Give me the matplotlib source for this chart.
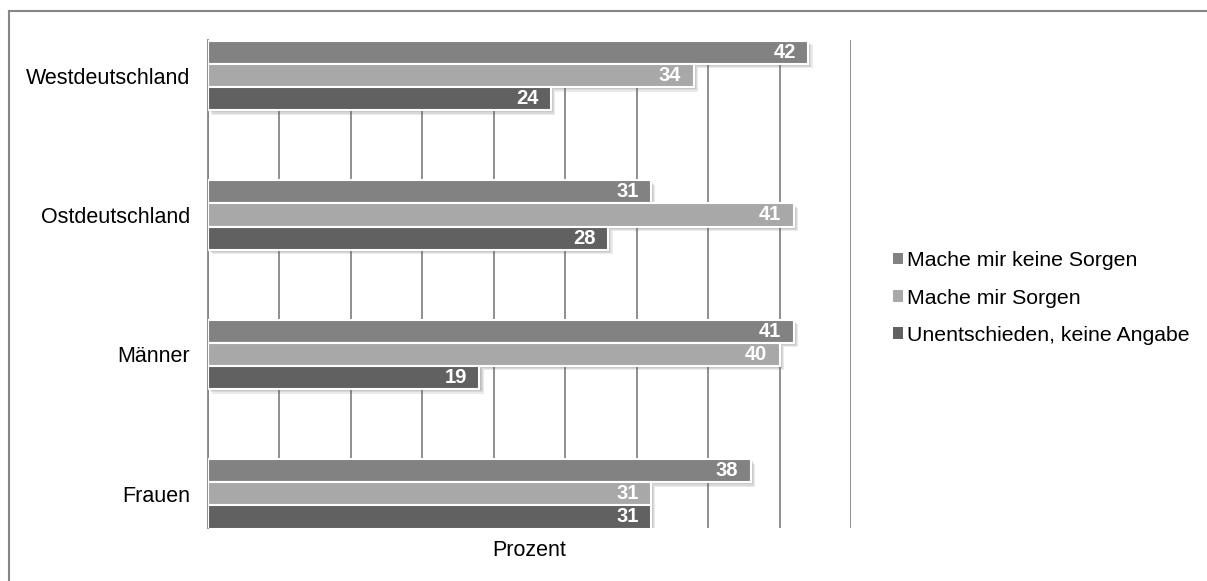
"""
Sorgen nach Region und Geschlecht - horizontal grouped bars
"""
import matplotlib
matplotlib.use("Agg")
import matplotlib.pyplot as plt
import matplotlib.patheffects as pe
from matplotlib.lines import Line2D
import numpy as np

plt.rcParams['font.family'] = ['Liberation Sans', 'DejaVu Sans']

# data
categories = ["Westdeutschland", "Ostdeutschland", "Männer", "Frauen"]
series_names = ["Mache mir keine Sorgen", "Mache mir Sorgen",
                "Unentschieden, keine Angabe"]
keine_sorgen = [42, 31, 41, 38]
sorgen = [34, 41, 40, 31]
unentschieden = [24, 28, 19, 31]
colors = ["#828282", "#a8a8a8", "#616161"]

values = [keine_sorgen, sorgen, unentschieden]

fig = plt.figure(figsize=(12.07, 5.81), dpi=100)
ax = fig.add_axes([208 / 1207, 1 - 528 / 581, (851 - 208) / 1207, (528 - 40) / 581])

y = np.arange(len(categories))
h = 0.166
# soft drop shadow, built from a few faint offset copies
shadow = [pe.SimplePatchShadow(offset=(k, -k), shadow_rgbFace="0.35", alpha=0.12)
          for k in (3.2, 2.4, 1.6, 0.8)] + [pe.Normal()]

for i in range(len(values)):
    bars = ax.barh(y + (i - 1) * h, values[i], height=h, color=colors[i],
                   edgecolor="white", linewidth=1.5, label=series_names[i],
                   zorder=3)
    for b in bars:
        b.set_path_effects(shadow)
    for yy, v in zip(y + (i - 1) * h, values[i]):
        ax.annotate(str(v), xy=(v, yy), xytext=(-9, 0), textcoords="offset points",
                    ha="right", va="center", color="white", fontsize=14.5,
                    fontweight="bold", zorder=4)

# axes styling
ax.set_xlim(0, 45)
ax.set_ylim(3.245, -0.255)
ax.set_xticks(np.arange(0, 46, 5))
ax.set_xticklabels([])
ax.grid(axis="x", color="#868686", linewidth=1.3)
ax.set_axisbelow(True)
ax.tick_params(axis="both", length=0)
ax.tick_params(axis="y", pad=13, labelsize=15.5)
ax.set_yticks(y)
ax.set_yticklabels(categories)
for s in ["top", "right", "bottom"]:
    ax.spines[s].set_visible(False)
ax.spines["left"].set_color("#868686")
ax.spines["left"].set_linewidth(1.3)
ax.set_xlabel("Prozent", fontsize=15.5, labelpad=5)

# legend
handles, labels = ax.get_legend_handles_labels()
leg = fig.legend(handles, labels, loc="center left",
                 bbox_to_anchor=(893 / 1207, 1 - 298 / 581), frameon=False,
                 fontsize=15.3, handlelength=0.45, handleheight=0.45,
                 handletextpad=0.22, labelspacing=0.86, borderpad=0,
                 borderaxespad=0)
for p in leg.get_patches():
    p.set_path_effects([])
    p.set_edgecolor("none")

# outer chart border (only top and left visible)
fig.add_artist(Line2D([9 / 1207, 9 / 1207], [0, 1 - 11 / 581],
                      color="#868686", linewidth=1.5))
fig.add_artist(Line2D([9 / 1207, 1], [1 - 11 / 581, 1 - 11 / 581],
                      color="#868686", linewidth=1.5))

fig.savefig("out.png", dpi=100, facecolor="white")
